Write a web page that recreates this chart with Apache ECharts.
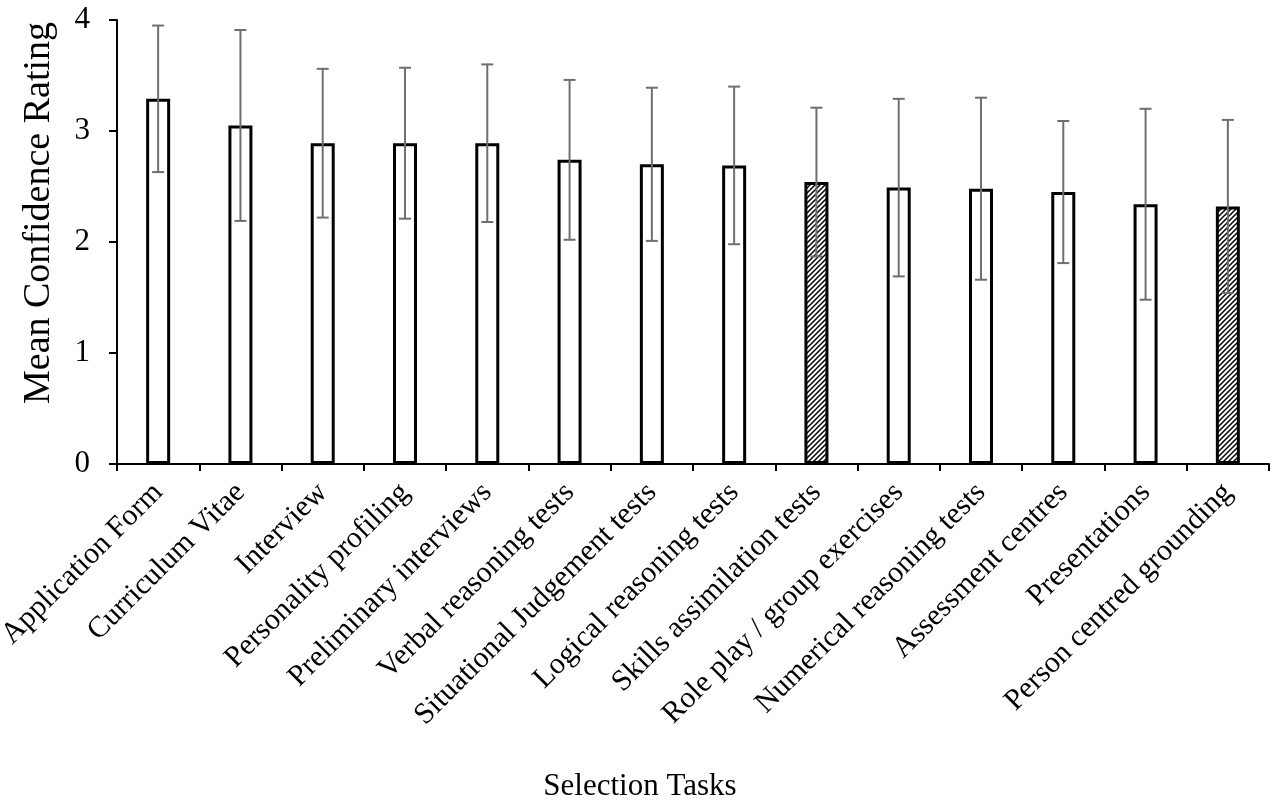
<!DOCTYPE html>
<html>
<head>
<meta charset="utf-8">
<script src="https://cdn.jsdelivr.net/npm/echarts@6/dist/echarts.min.js"></script>
<style>
html,body{margin:0;padding:0;background:#fff;}
#chart{width:1274px;height:805px;}
</style>
</head>
<body>
<div id="chart"></div>
<script>
const categories = [
  'Application Form', 'Curriculum Vitae', 'Interview', 'Personality profiling',
  'Preliminary interviews', 'Verbal reasoning tests', 'Situational Judgement tests',
  'Logical reasoning tests', 'Skills assimilation tests', 'Role play / group exercises',
  'Numerical reasoning tests', 'Assessment centres', 'Presentations', 'Person centred grounding'
];
const means  = [3.29, 3.05, 2.89, 2.89, 2.89, 2.74, 2.70, 2.69, 2.54, 2.49, 2.48, 2.45, 2.34, 2.32];
const errors = [0.66, 0.86, 0.67, 0.68, 0.71, 0.72, 0.69, 0.71, 0.67, 0.80, 0.82, 0.64, 0.86, 0.78];
const hatchedCategories = ['Skills assimilation tests', 'Person centred grounding'];
const yAxisTitle = 'Mean Confidence Rating';
const xAxisTitle = 'Selection Tasks';

const FONT = '"Liberation Serif", "Times New Roman", serif';

// hatch pattern
const pat = document.createElement('canvas');
const S = 5;
pat.width = S; pat.height = S;
const pc = pat.getContext('2d');
pc.fillStyle = '#fff';
pc.fillRect(0, 0, S, S);
pc.strokeStyle = '#000';
pc.lineWidth = 1.5;
pc.beginPath();
pc.moveTo(-1, S + 1); pc.lineTo(S + 1, -1);
pc.moveTo(-1, 1); pc.lineTo(1, -1);
pc.moveTo(S - 1, S + 1); pc.lineTo(S + 1, S - 1);
pc.stroke();

const barData = means.map((v, i) => ({
  value: v,
  itemStyle: {
    color: hatchedCategories.includes(categories[i]) ? { image: pat, repeat: 'repeat' } : '#ffffff'
  }
}));
const errData = means.map((v, i) => [i, v - errors[i], v + errors[i]]);

const chart = echarts.init(document.getElementById('chart'), null, { renderer: 'canvas' });
chart.setOption({
  animation: false,
  backgroundColor: '#fff',
  grid: { left: 117, right: 5, top: 20, bottom: 341, containLabel: false, outerBoundsMode: 'none' },
  xAxis: {
    type: 'category',
    data: categories,
    boundaryGap: true,
    axisLine: { show: true, lineStyle: { color: '#000', width: 2 } },
    axisTick: { show: true, interval: 0, length: 7, lineStyle: { color: '#000', width: 2 } },
    axisLabel: {
      interval: 0, rotate: 45, color: '#000', fontFamily: FONT, fontSize: 30,
      margin: 24, padding: [21, 0, 0, 0], hideOverlap: false
    },
    splitLine: { show: false }
  },
  yAxis: {
    type: 'value',
    min: 0, max: 4, interval: 1,
    axisLine: { show: true, lineStyle: { color: '#000', width: 2 } },
    axisTick: { show: true, length: 8, lineStyle: { color: '#000', width: 2 } },
    axisLabel: { color: '#000', fontFamily: FONT, fontSize: 31, margin: 27, padding: [0, 0, 5, 0] },
    splitLine: { show: false }
  },
  graphic: [
    {
      type: 'text', x: 39, y: 213, rotation: Math.PI / 2,
      style: { text: yAxisTitle, font: '38px ' + FONT, fill: '#000', align: 'center', verticalAlign: 'middle' }
    },
    {
      type: 'text', x: 640, y: 787,
      style: { text: xAxisTitle, font: '31px ' + FONT, fill: '#000', align: 'center', verticalAlign: 'middle' }
    }
  ],
  series: [
    {
      type: 'bar',
      data: barData,
      barWidth: 24,
      itemStyle: { borderColor: '#000', borderWidth: 3 },
      z: 2
    },
    {
      type: 'custom',
      data: errData,
      z: 5,
      renderItem: function (params, api) {
        const x = api.value(0);
        const lo = api.coord([x, api.value(1)]);
        const hi = api.coord([x, api.value(2)]);
        const cap = 6;
        const st = { stroke: '#6f6f6f', lineWidth: 2 };
        return {
          type: 'group',
          children: [
            { type: 'line', shape: { x1: lo[0], y1: lo[1], x2: hi[0], y2: hi[1] }, style: st },
            { type: 'line', shape: { x1: lo[0] - cap, y1: lo[1], x2: lo[0] + cap, y2: lo[1] }, style: st },
            { type: 'line', shape: { x1: hi[0] - cap, y1: hi[1], x2: hi[0] + cap, y2: hi[1] }, style: st }
          ]
        };
      }
    }
  ]
});
</script>
</body>
</html>
